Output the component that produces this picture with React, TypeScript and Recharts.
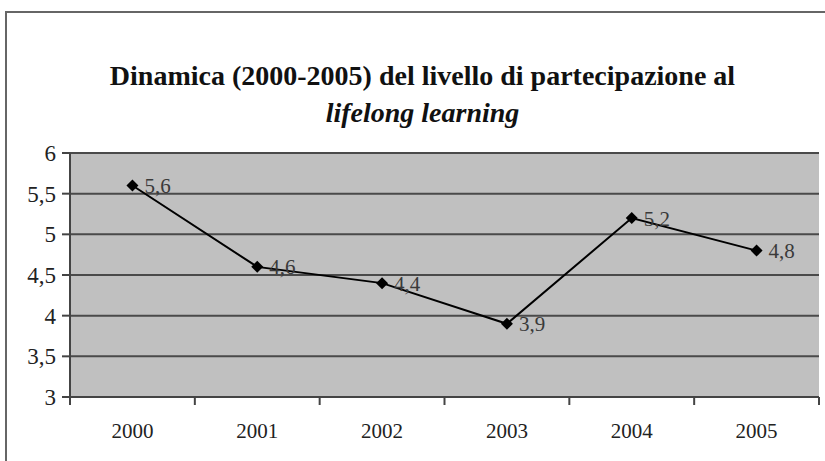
import React from "react";
import {
  LineChart,
  Line,
  XAxis,
  YAxis,
  CartesianGrid,
  LabelList,
} from "recharts";

const years = ["2000", "2001", "2002", "2003", "2004", "2005"];
const partecipazione = [5.6, 4.6, 4.4, 3.9, 5.2, 4.8];
const yTicks = [3, 3.5, 4, 4.5, 5, 5.5, 6];

const data = years.map((y, i) => ({ anno: y, valore: partecipazione[i] }));

const FONT = "'Liberation Serif', 'Times New Roman', Times, 'DejaVu Serif', serif";
const W = 825;
const H = 461;
const PLOT_LEFT = 70;
const PLOT_RIGHT = 6;
const BAND = (W - PLOT_LEFT - PLOT_RIGHT) / years.length;

const fmt = (v: number) => String(v).replace(".", ",");

// ticks sit between categories, like the old spreadsheet charts
function XTick(props: any) {
  const { x, y, payload, index } = props;
  const half = BAND / 2;
  const top = y - 8;
  return (
    <g>
      {index === 0 && (
        <line x1={x - half} x2={x - half} y1={top} y2={top + 8} stroke="#444" strokeWidth={2} />
      )}
      <line x1={x + half} x2={x + half} y1={top} y2={top + 8} stroke="#444" strokeWidth={2} />
      <text x={x} y={y + 33} textAnchor="middle" style={{ fontFamily: FONT, fontSize: 21 }} fill="#222">
        {payload.value}
      </text>
    </g>
  );
}

function YTick(props: any) {
  const { x, y, payload } = props;
  return (
    <text x={x - 4} y={y + 8} textAnchor="end" style={{ fontFamily: FONT, fontSize: 23 }} fill="#222">
      {fmt(payload.value)}
    </text>
  );
}

function Diamond(props: any) {
  const { cx, cy } = props;
  if (cx == null || cy == null) return null;
  const r = 6;
  return (
    <polygon
      points={`${cx},${cy - r} ${cx + r},${cy} ${cx},${cy + r} ${cx - r},${cy}`}
      fill="#000"
    />
  );
}

export default function App() {
  return (
    <div style={{ position: "relative", width: W, height: H, overflow: "hidden", background: "#fff" }}>
      <style>{"body{margin:0;overflow:hidden}"}</style>
      <div
        style={{
          position: "absolute",
          left: 5,
          top: 11,
          width: W + 20,
          height: H + 20,
          border: "2px solid #666",
        }}
      />
      <div
        style={{
          position: "absolute",
          left: 0,
          top: 57,
          width: W,
          textAlign: "center",
          fontFamily: FONT,
          fontWeight: "bold",
          fontSize: 28,
          lineHeight: "37px",
          color: "#111",
          paddingLeft: 10,
        }}
      >
        Dinamica (2000-2005) del livello di partecipazione al
        <br />
        <i>lifelong learning</i>
      </div>
      <div style={{ position: "absolute", left: 0, top: 0 }}>
        <LineChart
          width={W}
          height={H}
          data={data}
          margin={{ top: 153, right: PLOT_RIGHT, bottom: 34, left: 0 }}
        >
          <CartesianGrid vertical={false} fill="#c0c0c0" stroke="#4a4a4a" strokeWidth={2} />
          <XAxis
            dataKey="anno"
            height={30}
            padding={{ left: BAND / 2, right: BAND / 2 }}
            axisLine={{ stroke: "#444", strokeWidth: 2 }}
            tickLine={false}
            tick={<XTick />}
            interval={0}
          />
          <YAxis
            width={PLOT_LEFT}
            domain={[3, 6]}
            ticks={yTicks}
            axisLine={{ stroke: "#444", strokeWidth: 2 }}
            tickLine={{ stroke: "#444", strokeWidth: 2 }}
            tickSize={8}
            tick={<YTick />}
          />
          <YAxis
            yAxisId="r"
            orientation="right"
            width={0}
            domain={[3, 6]}
            tick={false}
            tickLine={false}
            axisLine={{ stroke: "#777", strokeWidth: 2 }}
          />
          <Line
            type="linear"
            dataKey="valore"
            stroke="#000"
            strokeWidth={2}
            dot={<Diamond />}
            isAnimationActive={false}
          >
            <LabelList
              dataKey="valore"
              position="right"
              offset={12}
              formatter={(v: any) => fmt(v)}
              style={{ fontFamily: FONT, fontSize: 21, fill: "#3a3a3a" }}
            />
          </Line>
        </LineChart>
      </div>
    </div>
  );
}
